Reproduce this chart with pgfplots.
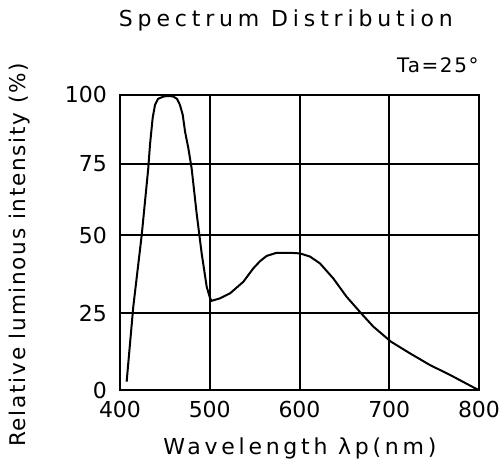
\documentclass[border=0pt]{standalone}
\usepackage{fontspec}
\setmainfont{DejaVu Sans}
\newfontfamily\titlefont{DejaVu Sans}[LetterSpace=22]
\newfontfamily\xlabfont{DejaVu Sans}[LetterSpace=17]
\newfontfamily\midfont{DejaVu Sans}[LetterSpace=8]
\usepackage{pgfplots}
\pgfplotsset{compat=1.18}

\begin{document}
\begin{tikzpicture}
\path[use as bounding box] (-60pt,-38.5pt) rectangle (191pt,195pt);
\begin{axis}[
    at={(0pt,0pt)}, anchor=south west,
    scale only axis,
    width=179.5pt, height=147.5pt,
    xmin=400, xmax=800, ymin=0, ymax=100,
    xtick={400,500,600,700,800},
    % the printed grid is not evenly spaced in y
    y coord trafo/.code={\pgfmathparse{ifthenelse(#1<25, #1*1.044,
        ifthenelse(#1<50, 26.10+(#1-25)*1.0576,
        ifthenelse(#1<75, 52.54+(#1-50)*0.9628,
        76.61+(#1-75)*0.9356)))}},
    ytick={0,25,50,75,100},
    yticklabels={0,25,50,75,100},
    grid=major,
    major grid style={black, line width=1pt},
    axis line style={black, line width=1pt},
    tick style={draw=none},
    ticklabel style={font=\fontsize{11}{12}\selectfont},
    xticklabel style={yshift=-2pt},
    yticklabel style={xshift=-3pt},
    /pgf/number format/assume math mode=true,
    clip=false,
]
\addplot[black, line width=1pt] coordinates {
    (407.4,2.7) (414.8,27.0) (424.2,50) (431.5,73.5) (433.4,81.9)
    (436.4,91.7) (439,96.4) (442.3,98.6) (449,99.5) (454.6,99.6)
    (459,99.5) (463.5,98.6) (466.8,96.4) (469.9,92.8) (472.5,86.7)
    (476.1,80.8) (479.8,73.5) (485.4,57.6) (491,44.1) (496.6,33.4)
    (500.3,29.8) (502,28.9) (511.4,29.7) (522.6,31.3) (537.4,35.0)
    (548.5,39.3) (556,41.6) (563.4,43.3) (574.5,44.3) (589.4,44.3)
    (600.5,44.1) (611.6,43.1) (622.8,40.9) (637.6,36.1) (652.5,30.2)
    (669.3,24.7) (682.2,20.6) (701.9,15.7) (723.1,11.9) (745.4,8.1)
    (767.7,4.9) (797.4,0.3) (800,0)
};
\node[font=\titlefont\fontsize{11}{12}\selectfont] at (axis description cs:0.462,1.254) {Spectrum Distribution};
\node[anchor=east, inner sep=0pt, font=\midfont\fontsize{10}{12}\selectfont] at (axis description cs:1.0,1.102) {Ta=25°};
\node[font=\xlabfont\fontsize{11}{12}\selectfont] at (axis description cs:0.501,-0.197) {Wavelength λp(nm)};
\node[rotate=90, font=\midfont\fontsize{10.8}{12}\selectfont] at (axis description cs:-0.279,0.458) {Relative luminous intensity (\%)};
\end{axis}
\end{tikzpicture}
\end{document}
